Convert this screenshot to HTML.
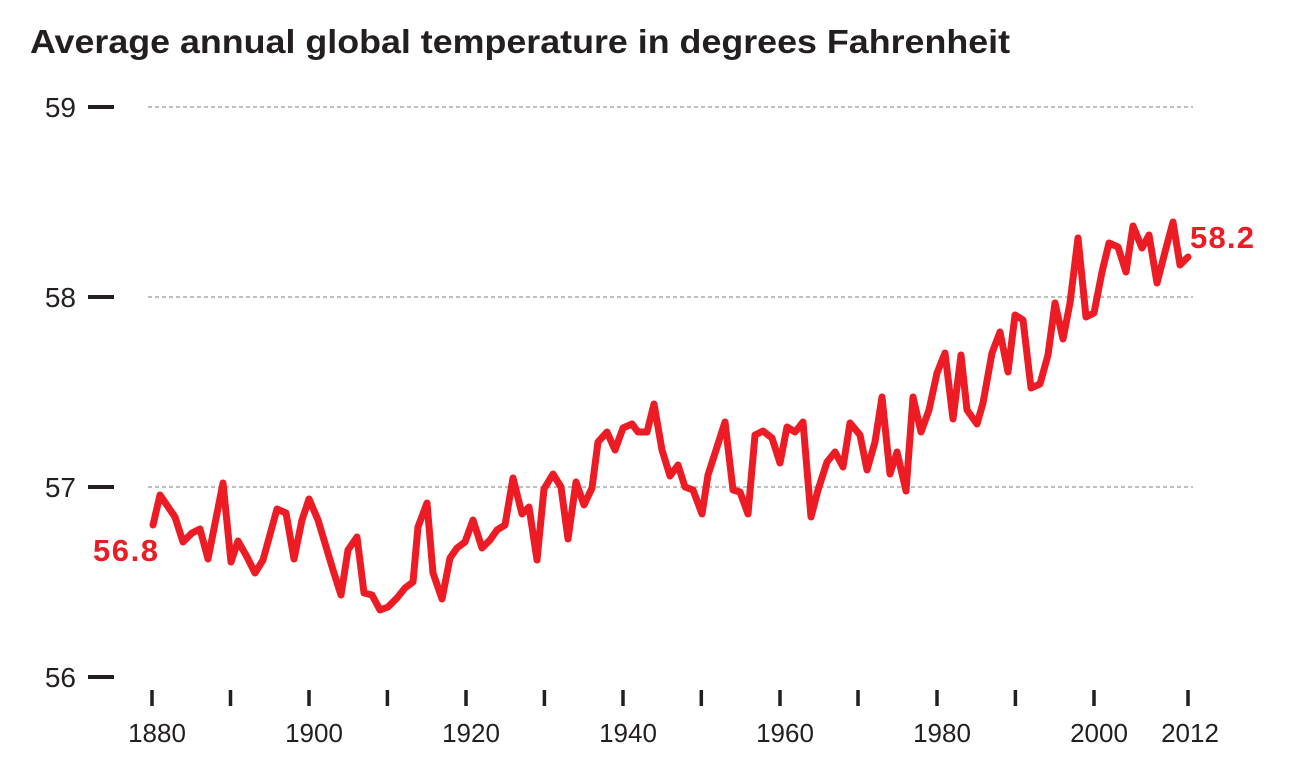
<!DOCTYPE html>
<html><head><style>body{margin:0;background:#fff}svg{display:block}</style></head><body>
<svg width="1297" height="760" xmlns="http://www.w3.org/2000/svg" font-family="Liberation Sans, sans-serif">
<text x="30" y="53" font-size="33" font-weight="bold" fill="#231f20" textLength="980" lengthAdjust="spacingAndGlyphs">Average annual global temperature in degrees Fahrenheit</text>
<g stroke="#999" stroke-width="1.2" stroke-dasharray="4,3">
<line x1="148" y1="107" x2="1193" y2="107"/><line x1="148" y1="297" x2="1193" y2="297"/><line x1="148" y1="487" x2="1193" y2="487"/>
</g>
<g stroke="#231f20" stroke-width="4">
<line x1="88" y1="107" x2="114" y2="107"/><line x1="88" y1="297" x2="114" y2="297"/><line x1="88" y1="487" x2="114" y2="487"/><line x1="88" y1="677" x2="114" y2="677"/>
</g>
<g stroke="#231f20" stroke-width="3.5">
<line x1="152" y1="690" x2="152" y2="706"/><line x1="230.5" y1="690" x2="230.5" y2="706"/><line x1="309" y1="690" x2="309" y2="706"/><line x1="387.4" y1="690" x2="387.4" y2="706"/><line x1="466" y1="690" x2="466" y2="706"/><line x1="544.4" y1="690" x2="544.4" y2="706"/><line x1="623" y1="690" x2="623" y2="706"/><line x1="701.3" y1="690" x2="701.3" y2="706"/><line x1="780" y1="690" x2="780" y2="706"/><line x1="858" y1="690" x2="858" y2="706"/><line x1="937" y1="690" x2="937" y2="706"/><line x1="1015.4" y1="690" x2="1015.4" y2="706"/><line x1="1094" y1="690" x2="1094" y2="706"/><line x1="1188" y1="690" x2="1188" y2="706"/>
</g>
<g font-size="28" fill="#231f20" text-anchor="end">
<text x="76" y="117">59</text><text x="76" y="307">58</text><text x="76" y="497">57</text><text x="76" y="687">56</text>
</g>
<g font-size="26" fill="#231f20" text-anchor="middle">
<text x="157" y="742">1880</text><text x="314" y="742">1900</text><text x="471" y="742">1920</text><text x="628" y="742">1940</text><text x="785" y="742">1960</text><text x="942" y="742">1980</text><text x="1099" y="742">2000</text><text x="1190" y="742">2012</text>
</g>
<polyline fill="none" stroke="#ed1c24" stroke-width="7" stroke-linejoin="round" stroke-linecap="round" points="153,525 160,495 175,517 183,542 192,533 200,529 208,559 223,483 231,562 238,541 247,557 255,573 263,560 277,509 286,513 294,559 302,520 309,499 318,520 327,550 333,570 341,595 348,550 357,537 364,593 372,595 380,610 388,607 397,598 405,588 413,582 418,527 427,503 433,573 442,599 450,558 457,548 465,542 473,520 482,548 490,540 497,530 505,525 513,478 522,514 529,507 537,560 544,489 553,474 561,487 568,539 576,482 584,505 592,488 598,442 607,432 615,450 623,428 632,424 638,432 647,432 654,404 662,450 670,476 678,465 685,487 693,490 702,514 708,475 717,447 725,422 733,490 740,492 748,514 755,435 763,431 772,438 780,463 787,427 795,432 803,422 811,517 818,490 827,462 835,452 843,467 850,423 860,435 867,470 875,442 882,397 890,474 897,452 906,491 913,397 921,432 929,410 937,373 945,353 953,419 961,355 967,410 977,424 983,403 992,353 1000,332 1008,372 1015,315 1023,320 1031,388 1040,384 1048,355 1055,303 1063,339 1070,303 1078,238 1086,317 1094,313 1102,272 1109,243 1118,247 1126,272 1133,226 1142,248 1149,235 1157,283 1165,252 1173,222 1180,265 1188,257"/>
<text x="93" y="561" font-size="31" font-weight="bold" fill="#ed1c24" textLength="65">56.8</text>
<text x="1190" y="248" font-size="31" font-weight="bold" fill="#ed1c24" textLength="64">58.2</text>
</svg>
</body></html>
